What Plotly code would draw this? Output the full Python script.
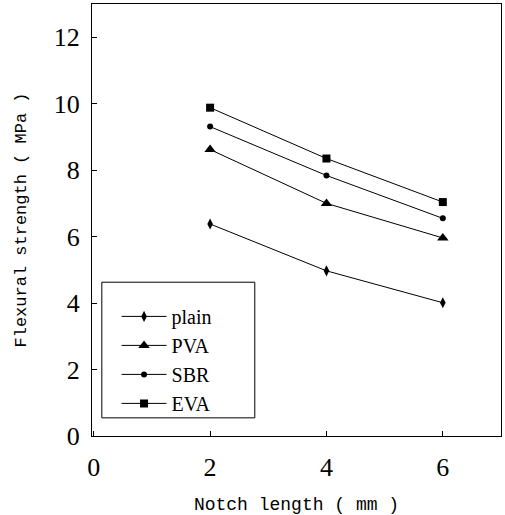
import plotly.graph_objects as go

notch = [2, 4, 6]
plain = [6.38, 4.97, 4.01]
pva = [8.62, 7.00, 5.96]
sbr = [9.31, 7.84, 6.55]
eva = [9.88, 8.35, 7.04]

series = [
    ("plain", plain, "diamond-tall", 8),
    ("PVA", pva, "triangle-up", 10),
    ("SBR", sbr, "circle", 6),
    ("EVA", eva, "square", 8),
]

fig = go.Figure()
for name, vals, sym, sz in series:
    fig.add_trace(go.Scatter(
        x=notch, y=vals, name=name, mode="lines+markers",
        line=dict(color="black", width=1),
        marker=dict(symbol=sym, size=sz, color="black"),
    ))

fig.add_shape(type="rect", xref="paper", yref="paper",
              x0=0.024, x1=0.398, y0=0.042, y1=0.356,
              line=dict(color="black", width=1), fillcolor="rgba(0,0,0,0)")

fig.update_layout(
    width=505, height=515,
    margin=dict(l=92, r=4, t=4, b=79, autoexpand=False),
    plot_bgcolor="white", paper_bgcolor="white",
    showlegend=True,
    legend=dict(
        x=0.06, y=0.322, xanchor="left", yanchor="top",
        borderwidth=0, bgcolor="rgba(0,0,0,0)",
        font=dict(family="Liberation Serif", size=20, color="black"),
        itemwidth=45,
    ),
    font=dict(family="Liberation Serif", color="black"),
)
fig.update_xaxes(
    range=[-0.03, 7], tickvals=[0, 2, 4, 6], showgrid=False, zeroline=False,
    showline=True, linecolor="black", linewidth=1, mirror=True,
    ticks="inside", ticklen=5, tickcolor="black", automargin=False,
    tickfont=dict(family="Liberation Serif", size=26), ticklabelstandoff=8,
    title=dict(text="Notch length ( mm )", font=dict(family="Liberation Mono", size=18), standoff=17),
)
fig.update_yaxes(
    range=[0, 13], tickvals=[0, 2, 4, 6, 8, 10, 12], showgrid=False, zeroline=False,
    showline=True, linecolor="black", linewidth=1, mirror=True,
    ticks="inside", ticklen=5, tickcolor="black", automargin=False,
    tickfont=dict(family="Liberation Serif", size=26), ticklabelstandoff=6,
    title=dict(text="Flexural strength ( MPa )", font=dict(family="Liberation Mono", size=17), standoff=22),
)
fig.write_html("out.html", config={"displayModeBar": False},
               post_script="document.body.style.margin='0';")
